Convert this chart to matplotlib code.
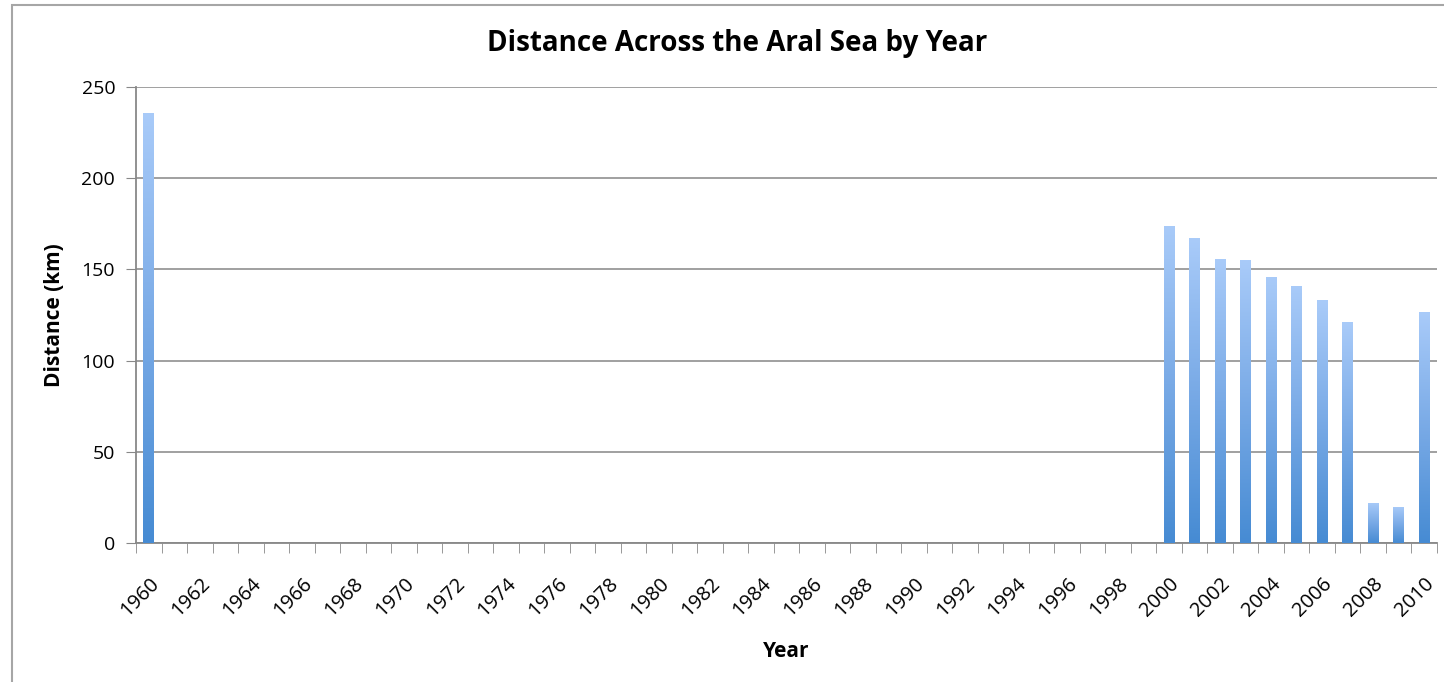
import numpy as np
import matplotlib.pyplot as plt
from matplotlib.colors import LinearSegmentedColormap
from matplotlib.patches import Rectangle

plt.rcParams['font.family'] = ['Open Sans', 'DejaVu Sans']

# data (km), years without a value are left empty
years = list(range(1960, 2011))
known_years = [1960, 2000, 2001, 2002, 2003, 2004, 2005, 2006, 2007, 2008, 2009, 2010]
known_vals = [236, 174, 167, 155.5, 155, 146, 141, 133, 121, 22, 20, 126.5]
yticks = [0, 50, 100, 150, 200, 250]

vals = np.zeros(len(years))
for y, v in zip(known_years, known_vals):
    vals[years.index(y)] = v

fig = plt.figure(figsize=(14.44, 6.82), dpi=100)
# outer chart frame like the spreadsheet export
fig.add_artist(Rectangle((12 / 1444, -0.1), 1.2, (682 - 5) / 682 + 0.1,
                         transform=fig.transFigure, fill=False,
                         edgecolor='#a6a6a6', linewidth=1.5))

ax = fig.add_axes([136 / 1444, (682 - 543) / 682, (1437 - 136) / 1444, (543 - 87) / 682])
x = np.arange(len(years))
bars = ax.bar(x, vals, width=0.42, color='none', zorder=3)

cmap = LinearSegmentedColormap.from_list('blu', ['#468bd3', '#79aae6', '#a9cbf9'])
grad = np.linspace(0, 1, 256).reshape(-1, 1)
for b in bars:
    h = b.get_height()
    if h <= 0:
        continue
    x0 = b.get_x()
    im = ax.imshow(grad, extent=(x0, x0 + b.get_width(), 0, h), origin='lower',
                   aspect='auto', cmap=cmap, zorder=3)
    im.set_clip_path(b)

ax.set_xlim(-0.5, len(years) - 0.5)
ax.set_ylim(0, 250)
ax.set_yticks(yticks)
ax.tick_params(axis='y', labelsize=14, length=7, color='#888888', pad=8)
ax.yaxis.grid(True, color='#999999', linewidth=1.3, zorder=0)

ax.set_xticks(x[::2])
ax.set_xticklabels([str(y) for y in years[::2]], rotation=45, ha='right',
                   rotation_mode='anchor', fontsize=14.5)
ax.tick_params(axis='x', length=0, pad=22)
ax.set_xticks(np.arange(-0.5, len(years)), minor=True)
ax.tick_params(axis='x', which='minor', length=7, color='#888888')

for s in ['top', 'right']:
    ax.spines[s].set_visible(False)
for s in ['left', 'bottom']:
    ax.spines[s].set_color('#888888')
    ax.spines[s].set_linewidth(1.3)

fig.text(737 / 1444, 1 - 44 / 682, 'Distance Across the Aral Sea by Year',
         fontsize=20, fontweight='bold', ha='center', va='center')
ax.set_ylabel('Distance (km)', fontsize=15, fontweight='bold', labelpad=12)
ax.set_xlabel('Year', fontsize=15, fontweight='bold', labelpad=15)

fig.savefig('out.png', dpi=100)
